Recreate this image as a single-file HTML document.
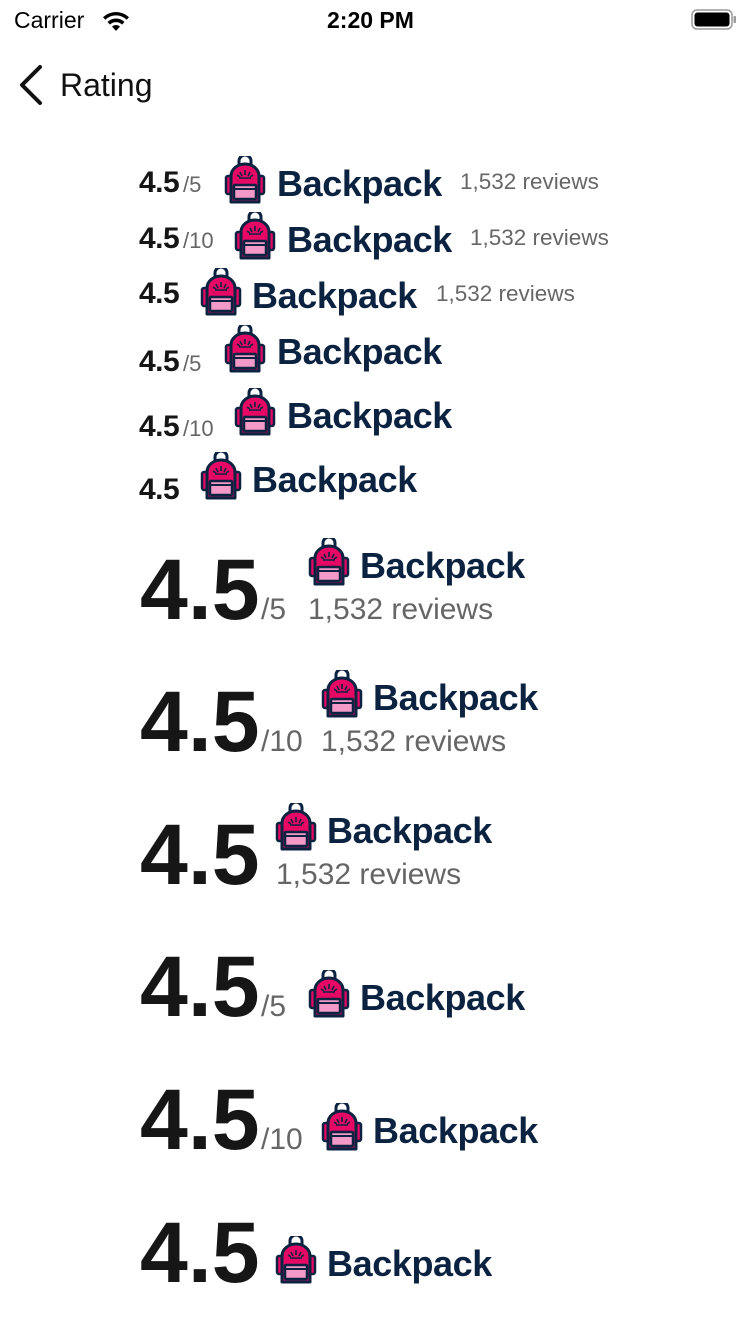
<!DOCTYPE html>
<html><head><meta charset="utf-8"><style>
body{margin:0;width:750px;height:1334px;background:#fff;position:relative;overflow:hidden;font-family:"Liberation Sans",sans-serif}
.t{position:absolute;line-height:1;white-space:nowrap}
.b{font-weight:bold;color:#161616}
.g{color:#666}
.bp{font-weight:bold;color:#0b2340;letter-spacing:-0.4px}
svg.ic{position:absolute}
</style></head><body>
<div>
<div class="t" style="left:14px;top:9px;font-size:23px;color:#000">Carrier</div>
<svg style="position:absolute;left:101px;top:10px" width="30" height="22"><path d="M15 21l-4-4.5a6 6 0 0 1 8 0z M6.5 12a12 12 0 0 1 17 0l-2.5 2.6a8.5 8.5 0 0 0-12 0z M2 7.3a18.5 18.5 0 0 1 26 0l-2.4 2.5a15 15 0 0 0-21.2 0z" fill="#000"/></svg>
<div class="t" style="left:327px;top:9px;font-size:23px;font-weight:bold;color:#000">2:20 PM</div>
<svg style="position:absolute;left:691px;top:9px" width="46" height="22"><rect x="1" y="1" width="40" height="19" rx="5" fill="none" stroke="#999" stroke-width="1.5"/><rect x="3.5" y="3.5" width="35" height="14" rx="3" fill="#000"/><rect x="42.5" y="7" width="2.5" height="7" rx="1" fill="#999"/></svg>
</div>
<svg style="position:absolute;left:16px;top:64px" width="30" height="42"><path d="M24 3L6 21l18 18" fill="none" stroke="#111" stroke-width="4" stroke-linecap="round" stroke-linejoin="round"/></svg>
<div class="t" style="left:60px;top:69px;font-size:32px;color:#111">Rating</div>
<script>
function ic(x,y){
  var s=document.createElementNS('http://www.w3.org/2000/svg','svg');
  s.setAttribute('class','ic');s.setAttribute('width','42');s.setAttribute('height','48');s.setAttribute('viewBox','0 0 42 48');
  s.style.left=x+'px';s.style.top=y+'px';
  s.innerHTML='<path d="M15 9V5a6 6 0 0 1 12 0v4" fill="none" stroke="#0b2340" stroke-width="3"/>'+
  '<rect x="2" y="20" width="6" height="18" rx="2" fill="#e70866" stroke="#0b2340" stroke-width="2.5"/>'+
  '<rect x="34" y="20" width="6" height="18" rx="2" fill="#e70866" stroke="#0b2340" stroke-width="2.5"/>'+
  '<path d="M7 46V20a14 12 0 0 1 28 0v26z" fill="#e70866" stroke="#0b2340" stroke-width="3" stroke-linejoin="round"/>'+
  '<rect x="10" y="29" width="22" height="14" rx="1" fill="#f49ac8" stroke="#0b2340" stroke-width="2.5"/>'+
  '<line x1="10" y1="33" x2="32" y2="33" stroke="#0b2340" stroke-width="2"/>'+
  '<path d="M15 22h12M21 14v5M16 16l2 4M26 16l-2 4M13 19l3 2M29 19l-3 2" stroke="#0b2340" stroke-width="1.6"/>';
  
  
  document.body.appendChild(s);
}
function tx(str,cls,fs,x,base,name,ls){
  var d=document.createElement('div');
  d.className='t '+cls;d.textContent=str;d.style.fontSize=fs+'px';d.style.left=x+'px';d.style.top=(base-0.8465*fs)+'px';
  if(ls)d.style.letterSpacing=ls+'px';
  
  
  document.body.appendChild(d);
}
var rows=[
 [30,193,'/5',183,224,156,277,196,460,190,22.5],
 [30,249,'/10',183,234,212,287,252,470,246,22.5],
 [30,304,'',0,200,268,252,308,436,302,22.5],
 [30,372,'/5',183,224,325,277,364,0,0,0],
 [30,437,'/10',183,234,388,287,428,0,0,0],
 [30,500,'',0,200,452,252,492,0,0,0],
 [86,620,'/5',261,308,538,360,578,308,620,30],
 [86,752,'/10',261,321,670,373,710,321,752,30],
 [86,885,'',0,275,803,327,843,276,885,30],
 [86,1017,'/5',261,308,970,360,1010,0,0,0],
 [86,1150,'/10',261,321,1103,373,1143,0,0,0],
 [86,1283,'',0,275,1236,327,1276,0,0,0]
];
rows.forEach(function(r){
  var big=r[0]>50;
  tx('4.5','b',r[0],big?140:139,r[1],'rating-value',big?0:-0.5);
  if(r[2])tx(r[2],'g',big?30:22,r[3],r[1],'rating-scale');
  ic(r[4],r[5]);
  tx('Backpack','bp',36,r[6],r[7],'backpack-wordmark');
  if(r[10])tx('1,532 reviews','g',r[10],r[8],r[9],'review-count');
});
</script>
</body></html>
